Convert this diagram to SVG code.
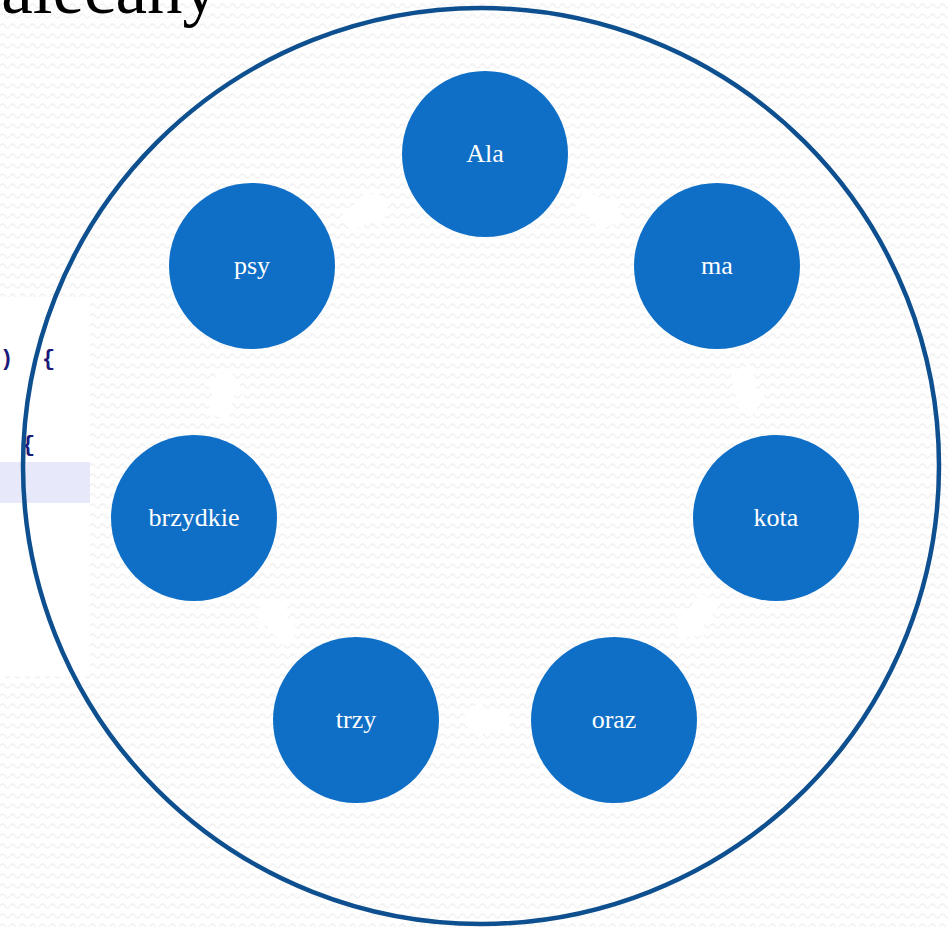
<svg xmlns="http://www.w3.org/2000/svg" width="948" height="927" viewBox="0 0 948 927">
  <defs>
    <pattern id="bg" width="10" height="10" patternUnits="userSpaceOnUse">
      <rect width="10" height="10" fill="#ffffff"/>
      <path d="M0,6 Q2.5,2 5,6 T10,6" fill="none" stroke="#f1f1f1" stroke-width="1.4"/>
    </pattern>
    <polygon id="arr" points="-25,-11 2,-11 2,-21 25,0 2,21 2,11 -25,11"/>
  </defs>
  <style>
    .node circle { fill: #0f6fc6; }
    .node text { fill: #ffffff; font-family: "Liberation Serif", "DejaVu Serif", serif; font-size: 26px; text-anchor: middle; }
    .code { font-family: "Liberation Mono", "DejaVu Sans Mono", monospace; font-weight: bold; font-size: 22px; fill: #1b1a7a; }
    #connectors use { fill: #ffffff; }
  </style>
  <rect width="948" height="927" fill="url(#bg)"/>
  <text x="218" y="13" font-family="Liberation Serif, DejaVu Serif, serif" font-size="71" fill="#000000" text-anchor="end">alecany</text>
  <g id="code-panel">
    <rect x="0" y="297" width="90" height="379" fill="#ffffff"/>
    <rect x="0" y="462" width="90" height="41" fill="#e8e8fb"/>
    <text class="code" x="0" y="365">)</text>
    <text class="code" x="42" y="365">{</text>
    <text class="code" x="22" y="451">{</text>
  </g>
  <circle cx="481" cy="466" r="458" fill="none" stroke="#0d4f8f" stroke-width="4.5"/>
  <g id="connectors">
    <use href="#arr" transform="translate(601.3,210.5) rotate(25.71)"/>
    <use href="#arr" transform="translate(746.3,392.4) rotate(77.14)"/>
    <use href="#arr" transform="translate(694.5,619.1) rotate(128.57)"/>
    <use href="#arr" transform="translate(485,720) rotate(180)"/>
    <use href="#arr" transform="translate(275.5,619.1) rotate(231.43)"/>
    <use href="#arr" transform="translate(223.7,392.4) rotate(282.86)"/>
    <use href="#arr" transform="translate(368.7,210.5) rotate(334.29)"/>
  </g>
  <g id="node-ala" class="node"><circle cx="485" cy="154" r="83"/><text x="485" y="162">Ala</text></g>
  <g id="node-ma" class="node"><circle cx="717" cy="266" r="83"/><text x="717" y="274">ma</text></g>
  <g id="node-kota" class="node"><circle cx="776" cy="518" r="83"/><text x="776" y="526">kota</text></g>
  <g id="node-oraz" class="node"><circle cx="614" cy="720" r="83"/><text x="614" y="728">oraz</text></g>
  <g id="node-trzy" class="node"><circle cx="356" cy="720" r="83"/><text x="356" y="728">trzy</text></g>
  <g id="node-brzydkie" class="node"><circle cx="194" cy="518" r="83"/><text x="194" y="526">brzydkie</text></g>
  <g id="node-psy" class="node"><circle cx="252" cy="266" r="83"/><text x="252" y="274">psy</text></g>
</svg>
